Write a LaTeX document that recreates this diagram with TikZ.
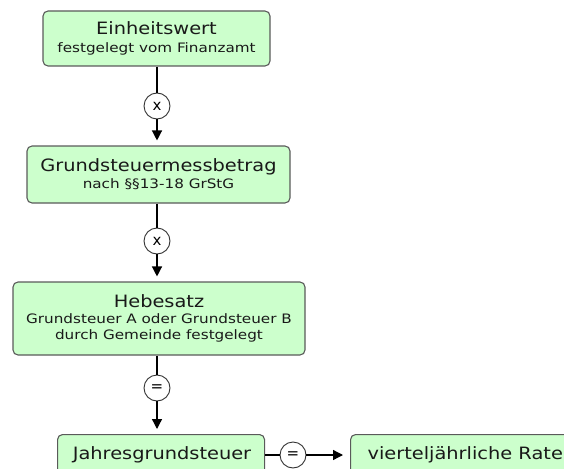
\documentclass[tikz,border=0pt]{standalone}
\usepackage{fontspec}
\setmainfont{DejaVu Sans}
\newfontfamily\titlefont[FakeStretch=1.14]{DejaVu Sans}
\newfontfamily\subfont[FakeStretch=1.17]{DejaVu Sans}
\usetikzlibrary{arrows.meta}
\definecolor{boxfill}{HTML}{CCFFCC}
\definecolor{boxline}{HTML}{5A5A5A}
\newcommand{\ttl}[1]{{\titlefont\fontsize{17}{16}\selectfont #1}}
\newcommand{\sub}[1]{{\subfont\fontsize{13}{16}\selectfont #1}}
\tikzset{
  stepbox/.style={draw=boxline, fill=boxfill, line width=1.1pt, rounded corners=5pt,
    align=center, inner sep=0pt, text=black!90, font=\fontsize{13}{16}\selectfont},
  steplabel/.style={text=black!90, font=\titlefont\fontsize{17}{17}\selectfont},
  opcircle/.style={draw=black!80, fill=white, line width=0.9pt, circle, minimum size=26pt,
    inner sep=0pt, font=\fontsize{15}{15}\selectfont},
  link/.style={line width=1.3pt, draw=black},
  flow/.style={link, -{Triangle[length=10pt,width=10pt]}, shorten >=5pt}
}
\begin{document}
\begin{tikzpicture}[x=1pt,y=-1pt]
  \useasboundingbox (0,0) rectangle (564,468);
  \begin{scope}
  \clip (0,0) rectangle (564,468);
  % calculation chain
  \node[stepbox, minimum width=227pt, minimum height=55pt] (ew) at (156.5,38.5)
    {\ttl{Einheitswert}\\[2pt]\sub{festgelegt vom Finanzamt}};
  \node[stepbox, minimum width=263pt, minimum height=57pt] (gmb) at (158.5,174.5)
    {\ttl{Grundsteuermessbetrag}\\[1pt]\sub{nach §§13-18 GrStG}};
  \node[stepbox, minimum width=292pt, minimum height=73pt] (hs) at (159,318.5)
    {\ttl{Hebesatz}\\[0pt]\sub{Grundsteuer A oder Grundsteuer B}\\\sub{durch Gemeinde festgelegt}};
  \node[stepbox, minimum width=207pt, minimum height=44pt, anchor=north west] (jgs) at (57,434) {};
  \node[steplabel] (jgst) at (162,455) {Jahresgrundsteuer};
  \node[stepbox, minimum width=240pt, minimum height=44pt, anchor=north west] (vr) at (350,434) {};
  \node[steplabel, anchor=west] (vrt) at (364,455) {vierteljährliche Rate};

  % operators
  \node[opcircle] (m1) at (157,106) {x};
  \node[opcircle] (m2) at (157,241) {x};
  \node[opcircle] (e1) at (157,388) {=};
  \node[opcircle] (e2) at (293,455) {=};

  % connectors
  \draw[link] (ew.south -| m1) -- (m1);
  \draw[flow] (m1) -- (gmb.north -| m1);
  \draw[link] (gmb.south -| m2) -- (m2);
  \draw[flow] (m2) -- (hs.north -| m2);
  \draw[link] (hs.south -| e1) -- (e1);
  \draw[flow] (e1) -- (jgs.north -| e1);
  \draw[link] (jgs.east |- e2) -- (e2);
  \draw[flow, shorten >=7pt] (e2) -- (vr.west |- e2);
  \end{scope}
\end{tikzpicture}
\end{document}
